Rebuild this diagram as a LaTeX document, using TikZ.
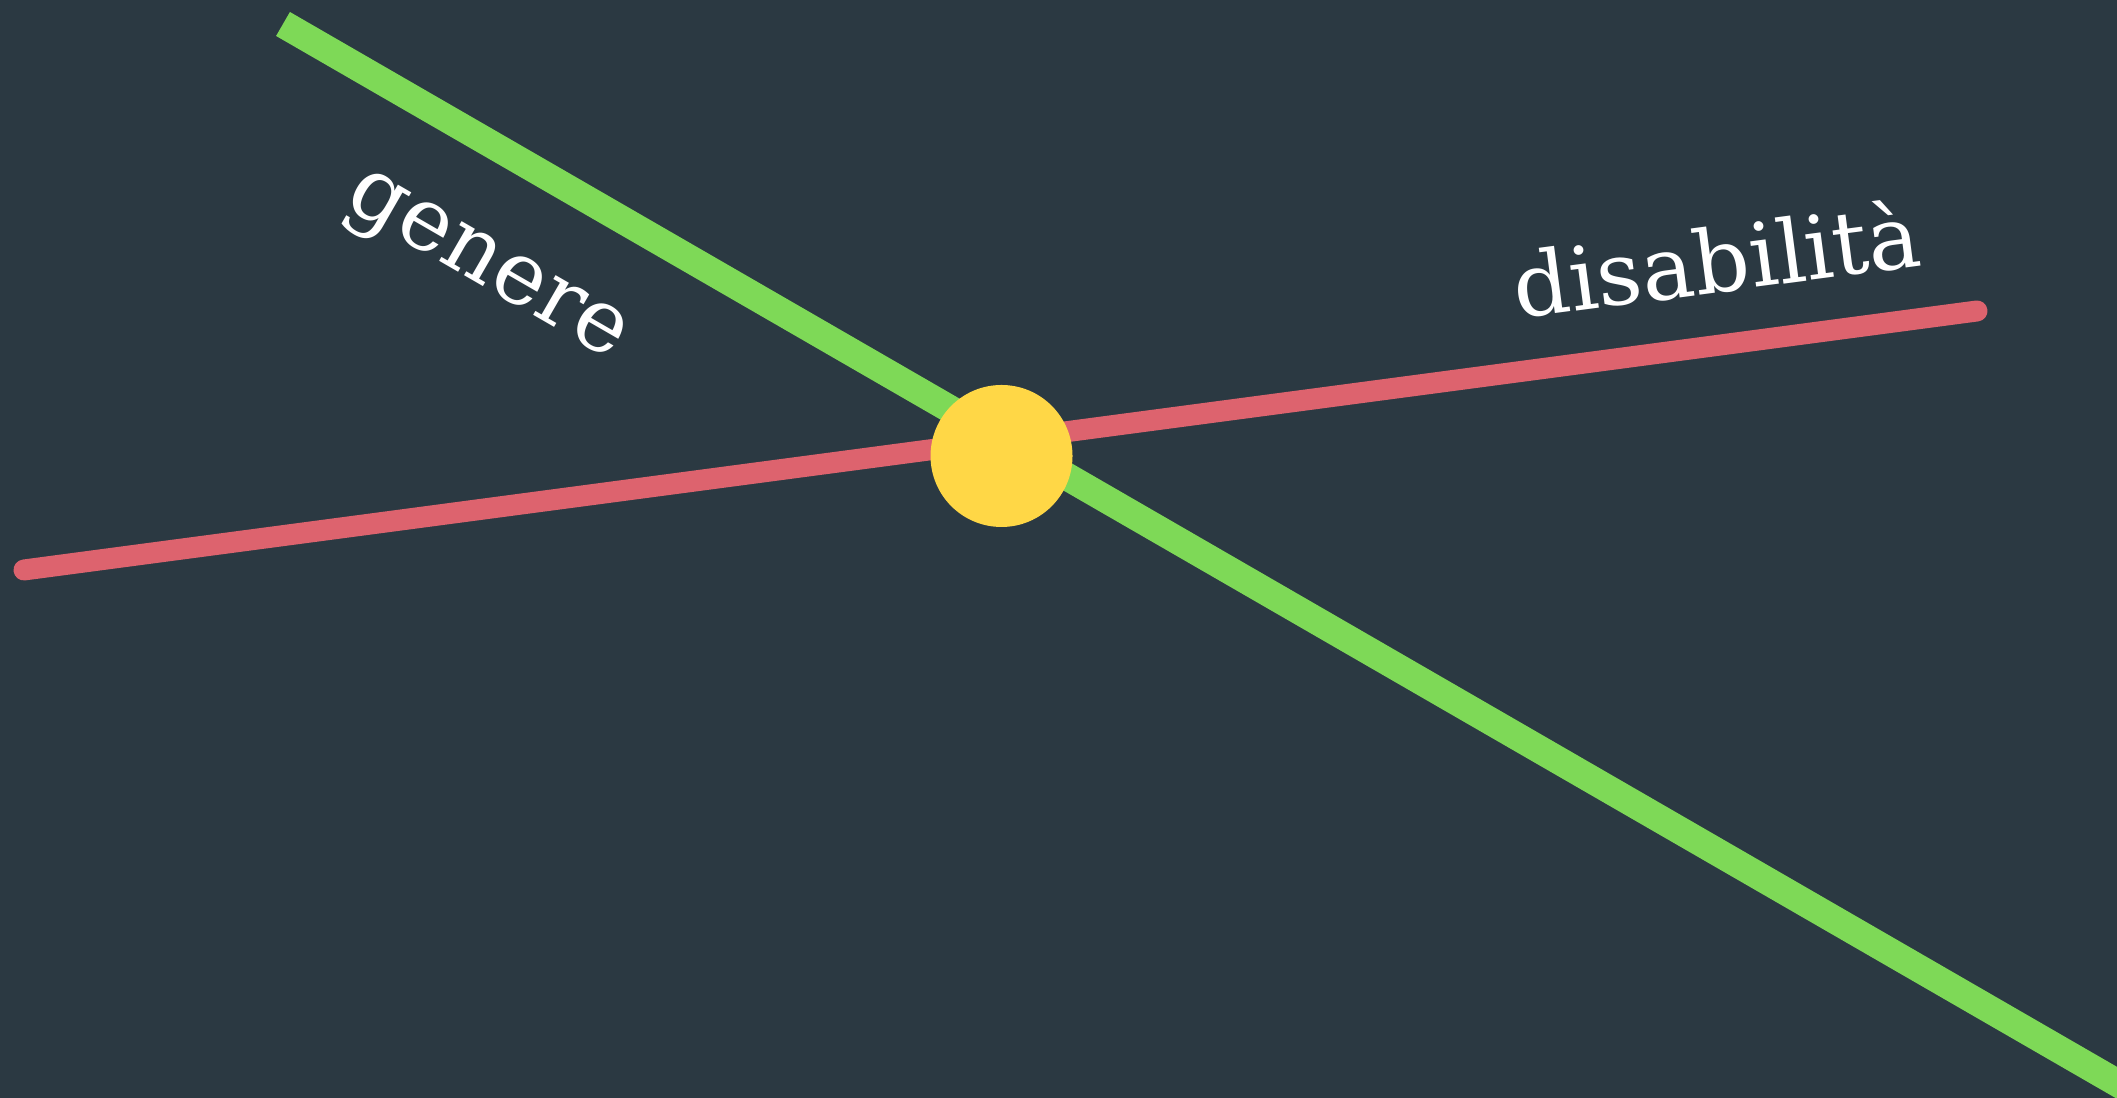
\documentclass[tikz,border=0pt]{standalone}
\usepackage{fontspec}
\setmainfont{DejaVu Serif}
\usetikzlibrary{calc}
\definecolor{sfondo}{HTML}{2B3942}
\definecolor{verde}{HTML}{7ED957}
\definecolor{rosso}{HTML}{DD636E}
\definecolor{giallo}{HTML}{FFD746}

\begin{document}
\begin{tikzpicture}[
    asse/.style={line width=#1},
    etichetta/.style={text=white,font=\fontsize{25}{30}\selectfont,inner sep=0pt}]
  \useasboundingbox (0,0) rectangle (21.17,10.98);
  \fill[sfondo] (0,0) rectangle (21.17,10.98);
  \clip (0,0) rectangle (21.17,10.98);

  \coordinate (G1) at (2.83,10.74);
  \coordinate (G2) at ($(G1)+(-30:24)$);
  \coordinate (R1) at (0.24,5.28);
  \coordinate (R2) at (19.77,7.87);

  \draw[verde,asse=2.77mm] (G1) -- (G2);
  \draw[rosso,asse=2.1mm,line cap=round] (R1) -- (R2);
  \node[circle,fill=giallo,minimum size=14.2mm,inner sep=0pt] (X) at (10.015,6.42) {};

  \node[etichetta,rotate=-30]  (genere) at (4.84,8.27)  {genere};
  \node[etichetta,rotate=7.5]  (disab)  at (17.16,8.40) {disabilità};
\end{tikzpicture}
\end{document}
